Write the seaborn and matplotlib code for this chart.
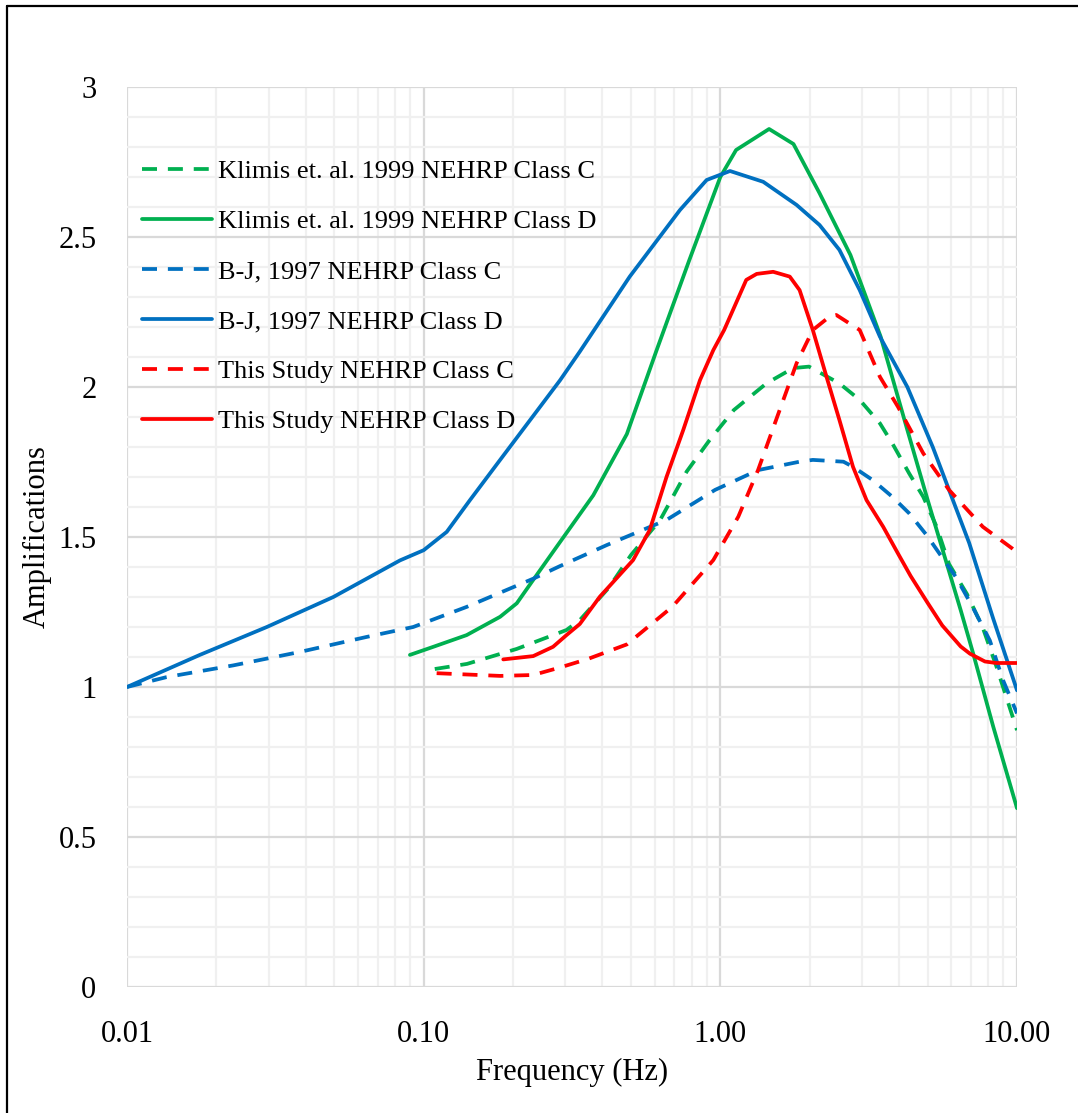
import numpy as np
import pandas as pd
import seaborn as sns
import matplotlib
matplotlib.use("Agg")
import matplotlib.pyplot as plt
from matplotlib.lines import Line2D
from matplotlib.ticker import FixedLocator, NullFormatter, FuncFormatter

# ---------------- data ----------------
klimis_c_f = [0.109, 0.14, 0.206, 0.303, 0.336, 0.42, 0.5, 0.627, 0.77, 0.92, 1.11, 1.43, 1.76,
              1.99, 2.52, 2.95, 3.45, 3.8, 4.33, 4.83, 5.36, 5.9, 6.78, 7.66, 8.54, 9.2, 10.0]
klimis_c_y = [1.06, 1.077, 1.127, 1.19, 1.223, 1.33, 1.44, 1.557, 1.718, 1.823, 1.923, 2.012, 2.063,
              2.068, 2.012, 1.957, 1.879, 1.812, 1.712, 1.634, 1.534, 1.41, 1.31, 1.199, 1.066, 0.967, 0.856]

klimis_d_f = [0.0899, 0.1078, 0.1396, 0.181, 0.206, 0.234, 0.281, 0.373, 0.484, 0.61, 0.786, 1.0,
              1.13, 1.46, 1.764, 2.16, 2.745, 3.47, 4.26, 4.99, 6.46, 7.12, 8.32, 10.0]
klimis_d_y = [1.107, 1.134, 1.173, 1.234, 1.279, 1.357, 1.468, 1.639, 1.843, 2.123, 2.423, 2.70,
              2.79, 2.86, 2.81, 2.646, 2.44, 2.168, 1.86, 1.626, 1.256, 1.111, 0.867, 0.596]

bj_c_f = [0.01, 0.0136, 0.0228, 0.0383, 0.0643, 0.0922, 0.1396, 0.234, 0.288, 0.414, 0.659, 0.96,
          1.34, 1.85, 2.05, 2.6, 2.8, 3.26, 3.8, 4.33, 4.97, 5.6, 6.24, 7.1, 8.1, 8.98, 10.0]
bj_c_y = [1.0, 1.033, 1.072, 1.117, 1.167, 1.2, 1.267, 1.361, 1.403, 1.473, 1.557, 1.657,
          1.723, 1.751, 1.757, 1.751, 1.734, 1.69, 1.634, 1.579, 1.505, 1.431, 1.365, 1.265, 1.155, 1.022, 0.912]

bj_d_f = [0.01, 0.0176, 0.0296, 0.0496, 0.0832, 0.1, 0.1196, 0.143, 0.181, 0.288, 0.336, 0.495,
          0.731, 0.899, 1.078, 1.395, 1.807, 2.16, 2.52, 2.95, 3.45, 4.27, 5.2, 6.9, 8.3, 10.0]
bj_d_y = [1.0, 1.107, 1.2, 1.3, 1.422, 1.456, 1.517, 1.622, 1.757, 2.022, 2.118, 2.368,
          2.59, 2.69, 2.72, 2.684, 2.607, 2.54, 2.457, 2.323, 2.168, 2.0, 1.80, 1.48, 1.23, 0.989]

this_c_f = [0.1106, 0.181, 0.234, 0.288, 0.359, 0.484, 0.69, 0.947, 1.15, 1.34, 1.57, 1.807,
            2.05, 2.33, 2.46, 2.95, 3.45, 3.97, 4.83, 5.9, 7.67, 9.63, 10.0]
this_c_y = [1.046, 1.037, 1.04, 1.065, 1.094, 1.142, 1.268, 1.423, 1.568, 1.723, 1.912, 2.079,
            2.19, 2.234, 2.24, 2.19, 2.034, 1.934, 1.779, 1.657, 1.534, 1.462, 1.448]

this_d_f = [0.1855, 0.234, 0.273, 0.303, 0.336, 0.3925, 0.508, 0.578, 0.659, 0.75, 0.854, 0.947,
            1.03, 1.223, 1.326, 1.507, 1.714, 1.85, 2.05, 2.28, 2.52, 2.8, 3.11, 3.54, 3.97,
            4.38, 5.0, 5.6, 6.46, 6.94, 7.8, 8.5, 10.0]
this_d_y = [1.092, 1.103, 1.134, 1.173, 1.21, 1.301, 1.423, 1.523, 1.701, 1.857, 2.023, 2.123,
            2.19, 2.357, 2.377, 2.384, 2.368, 2.323, 2.19, 2.034, 1.89, 1.734, 1.623, 1.534, 1.445,
            1.37, 1.28, 1.205, 1.135, 1.111, 1.085, 1.08, 1.08]

labels = ["Klimis et. al. 1999 NEHRP Class C", "Klimis et. al. 1999 NEHRP Class D",
          "B-J, 1997 NEHRP Class C", "B-J, 1997 NEHRP Class D",
          "This Study NEHRP Class C", "This Study NEHRP Class D"]
x_ticks = [0.01, 0.1, 1.0, 10.0]
y_ticks = [0, 0.5, 1, 1.5, 2, 2.5, 3]

# ---------------- styling ----------------
sns.set_theme(style="white")
plt.rcParams['font.family'] = ['Liberation Serif', 'DejaVu Serif']

GREEN = "#00B050"
BLUE = "#0070C0"
RED = "#FF0000"
series = [
    (klimis_c_f, klimis_c_y, GREEN, True),
    (klimis_d_f, klimis_d_y, GREEN, False),
    (bj_c_f, bj_c_y, BLUE, True),
    (bj_d_f, bj_d_y, BLUE, False),
    (this_c_f, this_c_y, RED, True),
    (this_d_f, this_d_y, RED, False),
]
LW = 2.7
DASH = (4.0, 2.9)

fig = plt.figure(figsize=(10.78, 11.13), dpi=100)
ax = fig.add_axes([127 / 1078, 1 - 987 / 1113, (1017 - 127) / 1078, (987 - 87) / 1113])

handles = []
for (fx, fy, col, dashed), lab in zip(series, labels):
    df = pd.DataFrame({"f": fx, "amp": fy})
    sns.lineplot(data=df, x="f", y="amp", ax=ax, color=col, linewidth=LW,
                 estimator=None, sort=False, legend=False)
    ln = ax.lines[-1]
    if dashed:
        ln.set_dashes(DASH)
    ln.set_solid_joinstyle("round")
    ln.set_dash_joinstyle("round")
    h = Line2D([0], [0], color=col, linewidth=LW)
    if dashed:
        h.set_dashes(DASH)
    handles.append(h)

ax.set_xscale("log")
ax.set_xlim(0.01, 10.0)
ax.set_ylim(0, 3)

# grid
minor_x = [m * 10.0 ** e for e in range(-2, 1) for m in range(2, 10)]
ax.xaxis.set_major_locator(FixedLocator(x_ticks))
ax.xaxis.set_minor_locator(FixedLocator(minor_x))
ax.xaxis.set_minor_formatter(NullFormatter())
ax.xaxis.set_major_formatter(FuncFormatter(lambda v, p: f"{v:.2f}"))
ax.yaxis.set_major_locator(FixedLocator(y_ticks))
ax.yaxis.set_minor_locator(FixedLocator([i / 10 for i in range(31) if i % 5]))
ax.yaxis.set_major_formatter(FuncFormatter(lambda v, p: f"{v:g}"))
ax.grid(True, which="major", color="#d9d9d9", linewidth=1.6)
ax.grid(True, which="minor", color="#f0f0f0", linewidth=1.6)
ax.set_axisbelow(True)
for s in ax.spines.values():
    s.set_visible(False)
ax.tick_params(which="both", length=0)
ax.tick_params(axis="x", labelsize=22, pad=24, colors="black")
ax.tick_params(axis="y", labelsize=22, pad=22, colors="black")

ax.set_xlabel("Frequency (Hz)", fontsize=22, color="black")
ax.set_ylabel("Amplifications", fontsize=22, color="black")
ax.xaxis.set_label_coords(0.5, -0.079)
ax.yaxis.set_label_coords(-0.085, 0.5)

leg = ax.legend(handles, labels, loc="upper left", bbox_to_anchor=(0.005, 0.9306),
                frameon=False, fontsize=19, handlelength=2.64, handletextpad=0.23,
                labelspacing=1.0, borderaxespad=0)
for t in leg.get_texts():
    t.set_color("black")

# outer chart border (left and top visible)
fig.add_artist(Line2D([7 / 1078, 7 / 1078], [0, 1 - 6 / 1113], transform=fig.transFigure,
                      color="black", linewidth=1.6))
fig.add_artist(Line2D([7 / 1078, 1.0], [1 - 6 / 1113, 1 - 6 / 1113], transform=fig.transFigure,
                      color="black", linewidth=1.6))

fig.savefig("out.png", dpi=100)
